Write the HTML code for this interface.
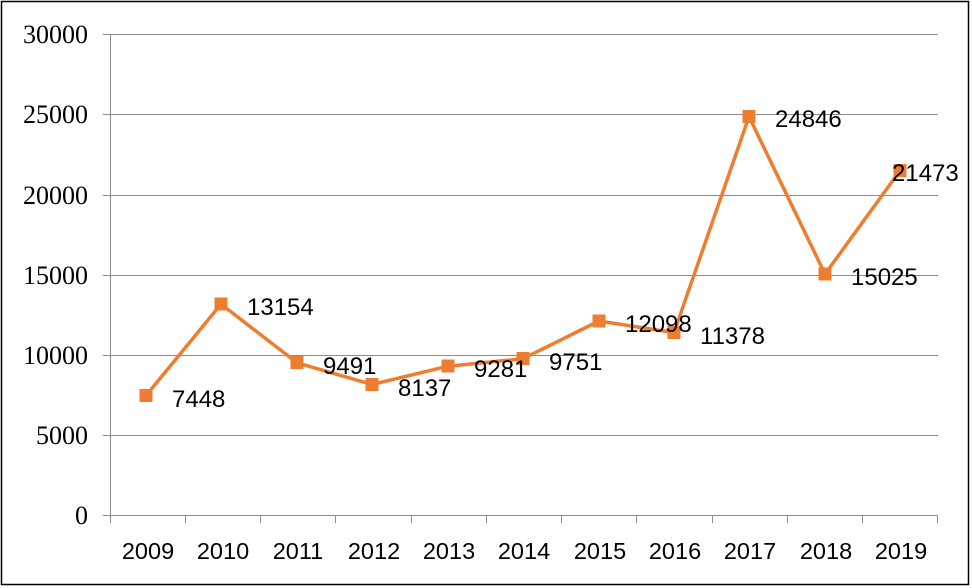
<!DOCTYPE html>
<html><head><meta charset="utf-8"><style>body{margin:0;background:#fff}svg{display:block}</style></head><body>
<svg width="972" height="588" xmlns="http://www.w3.org/2000/svg">
<rect x="1.5" y="1.5" width="967" height="583" fill="#fff" stroke="#000" stroke-width="1.5"/>
<g stroke="#8c8c8c" stroke-width="1">
<line x1="103" y1="34.5" x2="938" y2="34.5"/>
<line x1="103" y1="114.5" x2="938" y2="114.5"/>
<line x1="103" y1="195.5" x2="938" y2="195.5"/>
<line x1="103" y1="275.5" x2="938" y2="275.5"/>
<line x1="103" y1="355.5" x2="938" y2="355.5"/>
<line x1="103" y1="435.5" x2="938" y2="435.5"/>
<line x1="103" y1="515.5" x2="938" y2="515.5"/>
<line x1="110.5" y1="34" x2="110.5" y2="515"/>
</g>
<g stroke="#8c8c8c">
<line x1="110.5" y1="515" x2="110.5" y2="523"/><line x1="185.5" y1="515" x2="185.5" y2="523"/><line x1="260.5" y1="515" x2="260.5" y2="523"/><line x1="335.5" y1="515" x2="335.5" y2="523"/><line x1="411.5" y1="515" x2="411.5" y2="523"/><line x1="486.5" y1="515" x2="486.5" y2="523"/><line x1="561.5" y1="515" x2="561.5" y2="523"/><line x1="636.5" y1="515" x2="636.5" y2="523"/><line x1="712.5" y1="515" x2="712.5" y2="523"/><line x1="787.5" y1="515" x2="787.5" y2="523"/><line x1="862.5" y1="515" x2="862.5" y2="523"/><line x1="937.5" y1="515" x2="937.5" y2="523"/>
</g>
<g font-family="Liberation Serif, serif" font-size="26" text-anchor="end" fill="#000">
<text x="88" y="43">30000</text><text x="88" y="123">25000</text><text x="88" y="204">20000</text><text x="88" y="284">15000</text><text x="88" y="364">10000</text><text x="88" y="444">5000</text><text x="88" y="524">0</text>
</g>
<g font-family="Liberation Sans, sans-serif" font-size="23.5" text-anchor="middle" fill="#000">
<text x="148" y="559">2009</text><text x="223" y="559">2010</text><text x="298" y="559">2011</text><text x="374" y="559">2012</text><text x="449" y="559">2013</text><text x="524" y="559">2014</text><text x="600" y="559">2015</text><text x="675" y="559">2016</text><text x="750" y="559">2017</text><text x="826" y="559">2018</text><text x="901" y="559">2019</text>
</g>
<polyline fill="none" stroke="#ED7D31" stroke-width="3.5" stroke-linejoin="round" points="146,395.6 221,304.1 297,362.8 372,384.5 448,366.2 523,358.7 599,321.0 674,332.6 749,116.6 825,274.1 900,170.7"/>
<g fill="#ED7D31">
<rect x="139.5" y="389" width="13" height="13"/><rect x="214.5" y="297.5" width="13" height="13"/><rect x="290.5" y="356" width="13" height="13"/><rect x="365.5" y="378" width="13" height="13"/><rect x="441.5" y="359.5" width="13" height="13"/><rect x="516.5" y="352" width="13" height="13"/><rect x="592.5" y="314.5" width="13" height="13"/><rect x="667.5" y="326" width="13" height="13"/><rect x="742.5" y="110" width="13" height="13"/><rect x="818.5" y="267.5" width="13" height="13"/><rect x="893.5" y="164" width="13" height="13"/>
</g>
<g font-family="Liberation Sans, sans-serif" font-size="24" fill="#000">
<text x="172" y="407">7448</text><text x="247" y="315">13154</text><text x="323" y="374">9491</text><text x="398" y="396">8137</text><text x="474" y="377">9281</text><text x="549" y="370">9751</text><text x="625" y="332">12098</text><text x="700" y="344">11378</text><text x="775" y="127">24846</text><text x="851" y="285">15025</text><text x="892" y="181">21473</text>
</g>
</svg>
</body></html>
